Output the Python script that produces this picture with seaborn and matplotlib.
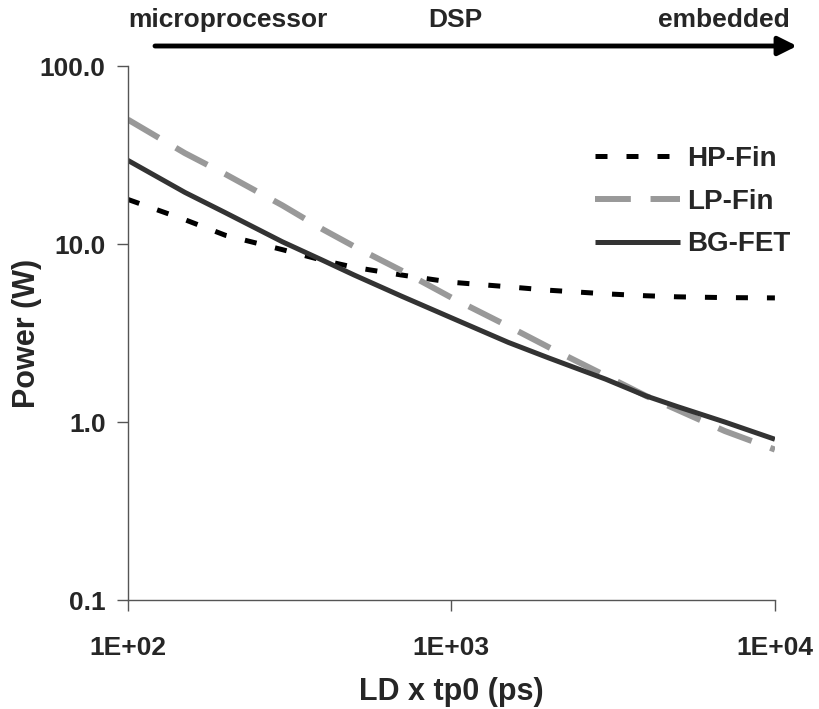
import pandas as pd
import matplotlib.pyplot as plt
import seaborn as sns

# values (log-log axes)
ld_tp0 = [100, 150, 200, 300, 400, 500, 700, 1000, 1500, 2000, 3000, 4000, 5000, 7000, 10000]
hp_fin = [17.8, 13.7, 11.2, 9.3, 8.1, 7.4, 6.7, 6.1, 5.75, 5.5, 5.25, 5.12, 5.05, 5.0, 4.98]
lp_fin = [50, 32.4, 24.7, 16.5, 12.1, 9.7, 7.1, 5.0, 3.45, 2.63, 1.82, 1.40, 1.17, 0.89, 0.70]
bg_fet = [29.5, 19.5, 15.0, 10.3, 8.1, 6.7, 5.1, 3.85, 2.8, 2.29, 1.74, 1.40, 1.22, 1.0, 0.80]

x_ticks = [100, 1000, 10000]
x_tick_labels = ['1E+02', '1E+03', '1E+04']
y_ticks = [0.1, 1, 10, 100]
y_tick_labels = ['0.1', '1.0', '10.0', '100.0']
regions = ['microprocessor', 'DSP', 'embedded']

df = pd.DataFrame({'x': ld_tp0, 'HP-Fin': hp_fin, 'LP-Fin': lp_fin, 'BG-FET': bg_fet})

sns.set_style('white')
plt.rcParams['font.family'] = ['Liberation Sans', 'DejaVu Sans']
plt.rcParams['font.weight'] = 'bold'

fig = plt.figure(figsize=(8.2, 7.09), dpi=100)
ax = fig.add_axes([0.156, 0.1537, 0.789, 0.7532])

# one call per series, each has its own dash and width
sns.lineplot(data=df, x='x', y='HP-Fin', ax=ax, color='black', lw=3.6,
             label='HP-Fin', dashes=(2.4, 3.8))
sns.lineplot(data=df, x='x', y='LP-Fin', ax=ax, color='#999999', lw=4.3,
             label='LP-Fin', dashes=(6, 3.3))
sns.lineplot(data=df, x='x', y='BG-FET', ax=ax, color='#333333', lw=3.6,
             label='BG-FET')
for line in ax.get_lines():
    line.set_dash_capstyle('butt')
    line.set_solid_capstyle('butt')
    line.set_solid_joinstyle('round')

ax.set_xscale('log')
ax.set_yscale('log')
ax.set_xlim(100, 10000)
ax.set_ylim(0.1, 100)
ax.set_xticks(x_ticks, x_tick_labels)
ax.set_yticks(y_ticks, y_tick_labels)
ax.minorticks_off()
ax.tick_params(axis='both', labelsize=19, length=8, width=1, color='#555555',
               direction='out', left=True, bottom=True)
ax.tick_params(axis='y', pad=8)
ax.tick_params(axis='x', pad=18)
for side in ['top', 'right']:
    ax.spines[side].set_visible(False)
for side in ['left', 'bottom']:
    ax.spines[side].set_color('#555555')
    ax.spines[side].set_linewidth(1)

ax.set_xlabel('LD x tp0 (ps)', fontsize=22, fontweight='bold', labelpad=12)
ax.set_ylabel('Power (W)', fontsize=22, fontweight='bold', va='center')
ax.yaxis.set_label_coords(-0.156, 0.5)

leg = ax.legend(loc='upper left', bbox_to_anchor=(0.722, 0.85), frameon=False,
                fontsize=20, handlelength=3.05, handletextpad=0.25,
                labelspacing=0.6, borderpad=0, borderaxespad=0)
for t in leg.get_texts():
    t.set_fontweight('bold')

# application regions above the plot with an arrow
fig.text(228 / 820, 1 - 20 / 709, regions[0], ha='center', va='center',
         fontsize=19, fontweight='bold')
fig.text(455 / 820, 1 - 20 / 709, regions[1], ha='center', va='center',
         fontsize=19, fontweight='bold')
fig.text(790 / 820, 1 - 20 / 709, regions[2], ha='right', va='center',
         fontsize=19, fontweight='bold')
ax.annotate('', xy=(797 / 820, 1 - 46 / 709), xytext=(155 / 820, 1 - 46 / 709),
            xycoords='figure fraction', textcoords='figure fraction',
            arrowprops=dict(arrowstyle='-|>', lw=3.5, color='black',
                            mutation_scale=28, shrinkA=0, shrinkB=0))

fig.savefig('out.png', dpi=100)
